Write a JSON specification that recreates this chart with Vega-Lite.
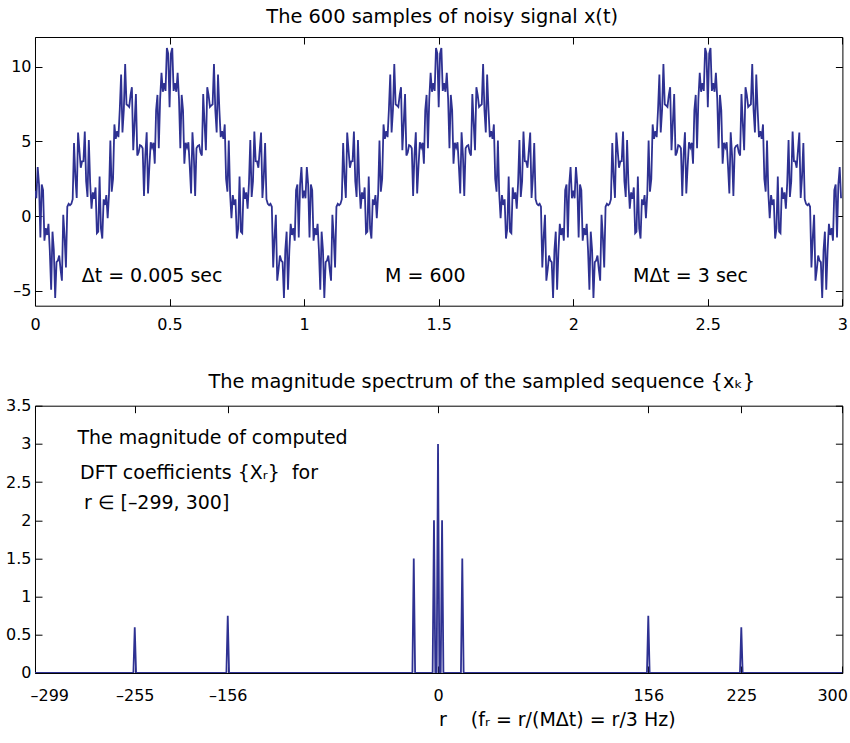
{
"$schema": "https://vega.github.io/schema/vega-lite/v6.json",
"autosize": {"type": "pad"},
"padding": {"left": 5, "top": 6, "right": 0, "bottom": 0},
"background": "white",
"spacing": 99.7,
"bounds": "flush",
"config": {
  "font": "DejaVu Sans",
  "view": {"stroke": "black", "strokeWidth": 1},
  "axis": {"grid": false, "domain": false, "tickSize": -7, "tickColor": "black", "tickWidth": 1, "labelFont": "DejaVu Sans", "labelFontSize": 16, "labelColor": "black", "titleFont": "DejaVu Sans", "titleFontWeight": "normal", "titleColor": "black", "labelFlush": false},
  "title": {"font": "DejaVu Sans", "fontSize": 19.4, "fontWeight": "normal", "color": "black", "baseline": "alphabetic"}
},
"datasets": {
"sig": [
{"t":0,"x":1.7},{"t":0.005,"x":1.194},{"t":0.01,"x":3.285},{"t":0.015,"x":2.119},{"t":0.02,"x":-1.434},{"t":0.025,"x":2.125},{"t":0.03,"x":1.743},{"t":0.035,"x":-1.646},{"t":0.04,"x":-0.801},{"t":0.045,"x":-1.262},
{"t":0.05,"x":-0.517},{"t":0.055,"x":-2.316},{"t":0.06,"x":-4.925},{"t":0.065,"x":-1.04},{"t":0.07,"x":-2.292},{"t":0.075,"x":-5.48},{"t":0.08,"x":-3.085},{"t":0.085,"x":-2.971},{"t":0.09,"x":-2.644},{"t":0.095,"x":-3.568},
{"t":0.1,"x":-4.327},{"t":0.105,"x":0.087},{"t":0.11,"x":-1.408},{"t":0.115,"x":-3.441},{"t":0.12,"x":0.628},{"t":0.125,"x":0.823},{"t":0.13,"x":0.73},{"t":0.135,"x":0.82},{"t":0.14,"x":1.138},{"t":0.145,"x":4.904},
{"t":0.15,"x":2.612},{"t":0.155,"x":1.222},{"t":0.16,"x":5.602},{"t":0.165,"x":4.424},{"t":0.17,"x":3.245},{"t":0.175,"x":3.672},{"t":0.18,"x":3.682},{"t":0.185,"x":5.666},{"t":0.19,"x":2.346},{"t":0.195,"x":1.285},
{"t":0.2,"x":5.105},{"t":0.205,"x":2.215},{"t":0.21,"x":0.502},{"t":0.215,"x":1.591},{"t":0.22,"x":1.168},{"t":0.225,"x":1.924},{"t":0.23,"x":-1.141},{"t":0.235,"x":-1.039},{"t":0.24,"x":2.648},{"t":0.245,"x":-0.828},
{"t":0.25,"x":-1.5},{"t":0.255,"x":1.122},{"t":0.26,"x":0.75},{"t":0.265,"x":1.411},{"t":0.27,"x":-0.139},{"t":0.275,"x":1.478},{"t":0.28,"x":5.068},{"t":0.285,"x":1.639},{"t":0.29,"x":2.492},{"t":0.295,"x":6.145},
{"t":0.3,"x":5.177},{"t":0.305,"x":5.693},{"t":0.31,"x":5.29},{"t":0.315,"x":7.146},{"t":0.32,"x":9.488},{"t":0.325,"x":5.606},{"t":0.33,"x":7.099},{"t":0.335,"x":10.194},{"t":0.34,"x":7.488},{"t":0.345,"x":7.416},
{"t":0.35,"x":7.314},{"t":0.355,"x":8.11},{"t":0.36,"x":8.638},{"t":0.365,"x":4.412},{"t":0.37,"x":6.206},{"t":0.375,"x":8.177},{"t":0.38,"x":4.06},{"t":0.385,"x":4.257},{"t":0.39,"x":4.756},{"t":0.395,"x":4.711},
{"t":0.4,"x":4.545},{"t":0.405,"x":1.35},{"t":0.41,"x":4.11},{"t":0.415,"x":5.613},{"t":0.42,"x":1.525},{"t":0.425,"x":3.346},{"t":0.43,"x":4.946},{"t":0.435,"x":4.604},{"t":0.44,"x":4.913},{"t":0.445,"x":3.514},
{"t":0.45,"x":7.091},{"t":0.455,"x":8.118},{"t":0.46,"x":4.547},{"t":0.465,"x":7.86},{"t":0.47,"x":9.601},{"t":0.475,"x":8.329},{"t":0.48,"x":8.902},{"t":0.485,"x":8.385},{"t":0.49,"x":11.269},{"t":0.495,"x":10.888},
{"t":0.5,"x":7.3},{"t":0.505,"x":10.888},{"t":0.51,"x":11.269},{"t":0.515,"x":8.385},{"t":0.52,"x":8.902},{"t":0.525,"x":8.329},{"t":0.53,"x":9.601},{"t":0.535,"x":7.86},{"t":0.54,"x":4.547},{"t":0.545,"x":8.118},
{"t":0.55,"x":7.091},{"t":0.555,"x":3.514},{"t":0.56,"x":4.913},{"t":0.565,"x":4.604},{"t":0.57,"x":4.946},{"t":0.575,"x":3.346},{"t":0.58,"x":1.525},{"t":0.585,"x":5.613},{"t":0.59,"x":4.11},{"t":0.595,"x":1.35},
{"t":0.6,"x":4.545},{"t":0.605,"x":4.711},{"t":0.61,"x":4.756},{"t":0.615,"x":4.257},{"t":0.62,"x":4.06},{"t":0.625,"x":8.177},{"t":0.63,"x":6.206},{"t":0.635,"x":4.412},{"t":0.64,"x":8.638},{"t":0.645,"x":8.11},
{"t":0.65,"x":7.314},{"t":0.655,"x":7.416},{"t":0.66,"x":7.488},{"t":0.665,"x":10.194},{"t":0.67,"x":7.099},{"t":0.675,"x":5.606},{"t":0.68,"x":9.488},{"t":0.685,"x":7.146},{"t":0.69,"x":5.29},{"t":0.695,"x":5.693},
{"t":0.7,"x":5.177},{"t":0.705,"x":6.145},{"t":0.71,"x":2.492},{"t":0.715,"x":1.639},{"t":0.72,"x":5.068},{"t":0.725,"x":1.478},{"t":0.73,"x":-0.139},{"t":0.735,"x":1.411},{"t":0.74,"x":0.75},{"t":0.745,"x":1.122},
{"t":0.75,"x":-1.5},{"t":0.755,"x":-0.828},{"t":0.76,"x":2.648},{"t":0.765,"x":-1.039},{"t":0.77,"x":-1.141},{"t":0.775,"x":1.924},{"t":0.78,"x":1.168},{"t":0.785,"x":1.591},{"t":0.79,"x":0.502},{"t":0.795,"x":2.215},
{"t":0.8,"x":5.105},{"t":0.805,"x":1.285},{"t":0.81,"x":2.346},{"t":0.815,"x":5.666},{"t":0.82,"x":3.682},{"t":0.825,"x":3.672},{"t":0.83,"x":3.245},{"t":0.835,"x":4.424},{"t":0.84,"x":5.602},{"t":0.845,"x":1.222},
{"t":0.85,"x":2.612},{"t":0.855,"x":4.904},{"t":0.86,"x":1.138},{"t":0.865,"x":0.82},{"t":0.87,"x":0.73},{"t":0.875,"x":0.823},{"t":0.88,"x":0.628},{"t":0.885,"x":-3.441},{"t":0.89,"x":-1.408},{"t":0.895,"x":0.087},
{"t":0.9,"x":-4.327},{"t":0.905,"x":-3.568},{"t":0.91,"x":-2.644},{"t":0.915,"x":-2.971},{"t":0.92,"x":-3.085},{"t":0.925,"x":-5.48},{"t":0.93,"x":-2.292},{"t":0.935,"x":-1.04},{"t":0.94,"x":-4.925},{"t":0.945,"x":-2.316},
{"t":0.95,"x":-0.517},{"t":0.955,"x":-1.262},{"t":0.96,"x":-0.801},{"t":0.965,"x":-1.646},{"t":0.97,"x":1.743},{"t":0.975,"x":2.125},{"t":0.98,"x":-1.434},{"t":0.985,"x":2.119},{"t":0.99,"x":3.285},{"t":0.995,"x":1.194},
{"t":1,"x":1.7},{"t":1.005,"x":1.194},{"t":1.01,"x":3.285},{"t":1.015,"x":2.119},{"t":1.02,"x":-1.434},{"t":1.025,"x":2.125},{"t":1.03,"x":1.743},{"t":1.035,"x":-1.646},{"t":1.04,"x":-0.801},{"t":1.045,"x":-1.262},
{"t":1.05,"x":-0.517},{"t":1.055,"x":-2.316},{"t":1.06,"x":-4.925},{"t":1.065,"x":-1.04},{"t":1.07,"x":-2.292},{"t":1.075,"x":-5.48},{"t":1.08,"x":-3.085},{"t":1.085,"x":-2.971},{"t":1.09,"x":-2.644},{"t":1.095,"x":-3.568},
{"t":1.1,"x":-4.327},{"t":1.105,"x":0.087},{"t":1.11,"x":-1.408},{"t":1.115,"x":-3.441},{"t":1.12,"x":0.628},{"t":1.125,"x":0.823},{"t":1.13,"x":0.73},{"t":1.135,"x":0.82},{"t":1.14,"x":1.138},{"t":1.145,"x":4.904},
{"t":1.15,"x":2.612},{"t":1.155,"x":1.222},{"t":1.16,"x":5.602},{"t":1.165,"x":4.424},{"t":1.17,"x":3.245},{"t":1.175,"x":3.672},{"t":1.18,"x":3.682},{"t":1.185,"x":5.666},{"t":1.19,"x":2.346},{"t":1.195,"x":1.285},
{"t":1.2,"x":5.105},{"t":1.205,"x":2.215},{"t":1.21,"x":0.502},{"t":1.215,"x":1.591},{"t":1.22,"x":1.168},{"t":1.225,"x":1.924},{"t":1.23,"x":-1.141},{"t":1.235,"x":-1.039},{"t":1.24,"x":2.648},{"t":1.245,"x":-0.828},
{"t":1.25,"x":-1.5},{"t":1.255,"x":1.122},{"t":1.26,"x":0.75},{"t":1.265,"x":1.411},{"t":1.27,"x":-0.139},{"t":1.275,"x":1.478},{"t":1.28,"x":5.068},{"t":1.285,"x":1.639},{"t":1.29,"x":2.492},{"t":1.295,"x":6.145},
{"t":1.3,"x":5.177},{"t":1.305,"x":5.693},{"t":1.31,"x":5.29},{"t":1.315,"x":7.146},{"t":1.32,"x":9.488},{"t":1.325,"x":5.606},{"t":1.33,"x":7.099},{"t":1.335,"x":10.194},{"t":1.34,"x":7.488},{"t":1.345,"x":7.416},
{"t":1.35,"x":7.314},{"t":1.355,"x":8.11},{"t":1.36,"x":8.638},{"t":1.365,"x":4.412},{"t":1.37,"x":6.206},{"t":1.375,"x":8.177},{"t":1.38,"x":4.06},{"t":1.385,"x":4.257},{"t":1.39,"x":4.756},{"t":1.395,"x":4.711},
{"t":1.4,"x":4.545},{"t":1.405,"x":1.35},{"t":1.41,"x":4.11},{"t":1.415,"x":5.613},{"t":1.42,"x":1.525},{"t":1.425,"x":3.346},{"t":1.43,"x":4.946},{"t":1.435,"x":4.604},{"t":1.44,"x":4.913},{"t":1.445,"x":3.514},
{"t":1.45,"x":7.091},{"t":1.455,"x":8.118},{"t":1.46,"x":4.547},{"t":1.465,"x":7.86},{"t":1.47,"x":9.601},{"t":1.475,"x":8.329},{"t":1.48,"x":8.902},{"t":1.485,"x":8.385},{"t":1.49,"x":11.269},{"t":1.495,"x":10.888},
{"t":1.5,"x":7.3},{"t":1.505,"x":10.888},{"t":1.51,"x":11.269},{"t":1.515,"x":8.385},{"t":1.52,"x":8.902},{"t":1.525,"x":8.329},{"t":1.53,"x":9.601},{"t":1.535,"x":7.86},{"t":1.54,"x":4.547},{"t":1.545,"x":8.118},
{"t":1.55,"x":7.091},{"t":1.555,"x":3.514},{"t":1.56,"x":4.913},{"t":1.565,"x":4.604},{"t":1.57,"x":4.946},{"t":1.575,"x":3.346},{"t":1.58,"x":1.525},{"t":1.585,"x":5.613},{"t":1.59,"x":4.11},{"t":1.595,"x":1.35},
{"t":1.6,"x":4.545},{"t":1.605,"x":4.711},{"t":1.61,"x":4.756},{"t":1.615,"x":4.257},{"t":1.62,"x":4.06},{"t":1.625,"x":8.177},{"t":1.63,"x":6.206},{"t":1.635,"x":4.412},{"t":1.64,"x":8.638},{"t":1.645,"x":8.11},
{"t":1.65,"x":7.314},{"t":1.655,"x":7.416},{"t":1.66,"x":7.488},{"t":1.665,"x":10.194},{"t":1.67,"x":7.099},{"t":1.675,"x":5.606},{"t":1.68,"x":9.488},{"t":1.685,"x":7.146},{"t":1.69,"x":5.29},{"t":1.695,"x":5.693},
{"t":1.7,"x":5.177},{"t":1.705,"x":6.145},{"t":1.71,"x":2.492},{"t":1.715,"x":1.639},{"t":1.72,"x":5.068},{"t":1.725,"x":1.478},{"t":1.73,"x":-0.139},{"t":1.735,"x":1.411},{"t":1.74,"x":0.75},{"t":1.745,"x":1.122},
{"t":1.75,"x":-1.5},{"t":1.755,"x":-0.828},{"t":1.76,"x":2.648},{"t":1.765,"x":-1.039},{"t":1.77,"x":-1.141},{"t":1.775,"x":1.924},{"t":1.78,"x":1.168},{"t":1.785,"x":1.591},{"t":1.79,"x":0.502},{"t":1.795,"x":2.215},
{"t":1.8,"x":5.105},{"t":1.805,"x":1.285},{"t":1.81,"x":2.346},{"t":1.815,"x":5.666},{"t":1.82,"x":3.682},{"t":1.825,"x":3.672},{"t":1.83,"x":3.245},{"t":1.835,"x":4.424},{"t":1.84,"x":5.602},{"t":1.845,"x":1.222},
{"t":1.85,"x":2.612},{"t":1.855,"x":4.904},{"t":1.86,"x":1.138},{"t":1.865,"x":0.82},{"t":1.87,"x":0.73},{"t":1.875,"x":0.823},{"t":1.88,"x":0.628},{"t":1.885,"x":-3.441},{"t":1.89,"x":-1.408},{"t":1.895,"x":0.087},
{"t":1.9,"x":-4.327},{"t":1.905,"x":-3.568},{"t":1.91,"x":-2.644},{"t":1.915,"x":-2.971},{"t":1.92,"x":-3.085},{"t":1.925,"x":-5.48},{"t":1.93,"x":-2.292},{"t":1.935,"x":-1.04},{"t":1.94,"x":-4.925},{"t":1.945,"x":-2.316},
{"t":1.95,"x":-0.517},{"t":1.955,"x":-1.262},{"t":1.96,"x":-0.801},{"t":1.965,"x":-1.646},{"t":1.97,"x":1.743},{"t":1.975,"x":2.125},{"t":1.98,"x":-1.434},{"t":1.985,"x":2.119},{"t":1.99,"x":3.285},{"t":1.995,"x":1.194},
{"t":2,"x":1.7},{"t":2.005,"x":1.194},{"t":2.01,"x":3.285},{"t":2.015,"x":2.119},{"t":2.02,"x":-1.434},{"t":2.025,"x":2.125},{"t":2.03,"x":1.743},{"t":2.035,"x":-1.646},{"t":2.04,"x":-0.801},{"t":2.045,"x":-1.262},
{"t":2.05,"x":-0.517},{"t":2.055,"x":-2.316},{"t":2.06,"x":-4.925},{"t":2.065,"x":-1.04},{"t":2.07,"x":-2.292},{"t":2.075,"x":-5.48},{"t":2.08,"x":-3.085},{"t":2.085,"x":-2.971},{"t":2.09,"x":-2.644},{"t":2.095,"x":-3.568},
{"t":2.1,"x":-4.327},{"t":2.105,"x":0.087},{"t":2.11,"x":-1.408},{"t":2.115,"x":-3.441},{"t":2.12,"x":0.628},{"t":2.125,"x":0.823},{"t":2.13,"x":0.73},{"t":2.135,"x":0.82},{"t":2.14,"x":1.138},{"t":2.145,"x":4.904},
{"t":2.15,"x":2.612},{"t":2.155,"x":1.222},{"t":2.16,"x":5.602},{"t":2.165,"x":4.424},{"t":2.17,"x":3.245},{"t":2.175,"x":3.672},{"t":2.18,"x":3.682},{"t":2.185,"x":5.666},{"t":2.19,"x":2.346},{"t":2.195,"x":1.285},
{"t":2.2,"x":5.105},{"t":2.205,"x":2.215},{"t":2.21,"x":0.502},{"t":2.215,"x":1.591},{"t":2.22,"x":1.168},{"t":2.225,"x":1.924},{"t":2.23,"x":-1.141},{"t":2.235,"x":-1.039},{"t":2.24,"x":2.648},{"t":2.245,"x":-0.828},
{"t":2.25,"x":-1.5},{"t":2.255,"x":1.122},{"t":2.26,"x":0.75},{"t":2.265,"x":1.411},{"t":2.27,"x":-0.139},{"t":2.275,"x":1.478},{"t":2.28,"x":5.068},{"t":2.285,"x":1.639},{"t":2.29,"x":2.492},{"t":2.295,"x":6.145},
{"t":2.3,"x":5.177},{"t":2.305,"x":5.693},{"t":2.31,"x":5.29},{"t":2.315,"x":7.146},{"t":2.32,"x":9.488},{"t":2.325,"x":5.606},{"t":2.33,"x":7.099},{"t":2.335,"x":10.194},{"t":2.34,"x":7.488},{"t":2.345,"x":7.416},
{"t":2.35,"x":7.314},{"t":2.355,"x":8.11},{"t":2.36,"x":8.638},{"t":2.365,"x":4.412},{"t":2.37,"x":6.206},{"t":2.375,"x":8.177},{"t":2.38,"x":4.06},{"t":2.385,"x":4.257},{"t":2.39,"x":4.756},{"t":2.395,"x":4.711},
{"t":2.4,"x":4.545},{"t":2.405,"x":1.35},{"t":2.41,"x":4.11},{"t":2.415,"x":5.613},{"t":2.42,"x":1.525},{"t":2.425,"x":3.346},{"t":2.43,"x":4.946},{"t":2.435,"x":4.604},{"t":2.44,"x":4.913},{"t":2.445,"x":3.514},
{"t":2.45,"x":7.091},{"t":2.455,"x":8.118},{"t":2.46,"x":4.547},{"t":2.465,"x":7.86},{"t":2.47,"x":9.601},{"t":2.475,"x":8.329},{"t":2.48,"x":8.902},{"t":2.485,"x":8.385},{"t":2.49,"x":11.269},{"t":2.495,"x":10.888},
{"t":2.5,"x":7.3},{"t":2.505,"x":10.888},{"t":2.51,"x":11.269},{"t":2.515,"x":8.385},{"t":2.52,"x":8.902},{"t":2.525,"x":8.329},{"t":2.53,"x":9.601},{"t":2.535,"x":7.86},{"t":2.54,"x":4.547},{"t":2.545,"x":8.118},
{"t":2.55,"x":7.091},{"t":2.555,"x":3.514},{"t":2.56,"x":4.913},{"t":2.565,"x":4.604},{"t":2.57,"x":4.946},{"t":2.575,"x":3.346},{"t":2.58,"x":1.525},{"t":2.585,"x":5.613},{"t":2.59,"x":4.11},{"t":2.595,"x":1.35},
{"t":2.6,"x":4.545},{"t":2.605,"x":4.711},{"t":2.61,"x":4.756},{"t":2.615,"x":4.257},{"t":2.62,"x":4.06},{"t":2.625,"x":8.177},{"t":2.63,"x":6.206},{"t":2.635,"x":4.412},{"t":2.64,"x":8.638},{"t":2.645,"x":8.11},
{"t":2.65,"x":7.314},{"t":2.655,"x":7.416},{"t":2.66,"x":7.488},{"t":2.665,"x":10.194},{"t":2.67,"x":7.099},{"t":2.675,"x":5.606},{"t":2.68,"x":9.488},{"t":2.685,"x":7.146},{"t":2.69,"x":5.29},{"t":2.695,"x":5.693},
{"t":2.7,"x":5.177},{"t":2.705,"x":6.145},{"t":2.71,"x":2.492},{"t":2.715,"x":1.639},{"t":2.72,"x":5.068},{"t":2.725,"x":1.478},{"t":2.73,"x":-0.139},{"t":2.735,"x":1.411},{"t":2.74,"x":0.75},{"t":2.745,"x":1.122},
{"t":2.75,"x":-1.5},{"t":2.755,"x":-0.828},{"t":2.76,"x":2.648},{"t":2.765,"x":-1.039},{"t":2.77,"x":-1.141},{"t":2.775,"x":1.924},{"t":2.78,"x":1.168},{"t":2.785,"x":1.591},{"t":2.79,"x":0.502},{"t":2.795,"x":2.215},
{"t":2.8,"x":5.105},{"t":2.805,"x":1.285},{"t":2.81,"x":2.346},{"t":2.815,"x":5.666},{"t":2.82,"x":3.682},{"t":2.825,"x":3.672},{"t":2.83,"x":3.245},{"t":2.835,"x":4.424},{"t":2.84,"x":5.602},{"t":2.845,"x":1.222},
{"t":2.85,"x":2.612},{"t":2.855,"x":4.904},{"t":2.86,"x":1.138},{"t":2.865,"x":0.82},{"t":2.87,"x":0.73},{"t":2.875,"x":0.823},{"t":2.88,"x":0.628},{"t":2.885,"x":-3.441},{"t":2.89,"x":-1.408},{"t":2.895,"x":0.087},
{"t":2.9,"x":-4.327},{"t":2.905,"x":-3.568},{"t":2.91,"x":-2.644},{"t":2.915,"x":-2.971},{"t":2.92,"x":-3.085},{"t":2.925,"x":-5.48},{"t":2.93,"x":-2.292},{"t":2.935,"x":-1.04},{"t":2.94,"x":-4.925},{"t":2.945,"x":-2.316},
{"t":2.95,"x":-0.517},{"t":2.955,"x":-1.262},{"t":2.96,"x":-0.801},{"t":2.965,"x":-1.646},{"t":2.97,"x":1.743},{"t":2.975,"x":2.125},{"t":2.98,"x":-1.434},{"t":2.985,"x":2.119},{"t":2.99,"x":3.285},{"t":2.995,"x":1.194}
],
"spec": [
{"r":-299,"m":0},{"r":-226,"m":0},{"r":-225,"m":0.6},{"r":-224,"m":0},{"r":-157,"m":0},{"r":-156,"m":0.75},{"r":-155,"m":0},
{"r":-19,"m":0},{"r":-18,"m":1.5},{"r":-17,"m":0},{"r":-4,"m":0},{"r":-3,"m":2},{"r":-2,"m":0},{"r":-1,"m":0},{"r":0,"m":3},{"r":1,"m":0},{"r":2,"m":0},{"r":3,"m":2},{"r":4,"m":0},
{"r":17,"m":0},{"r":18,"m":1.5},{"r":19,"m":0},{"r":155,"m":0},{"r":156,"m":0.75},{"r":157,"m":0},{"r":224,"m":0},{"r":225,"m":0.6},{"r":226,"m":0},{"r":300,"m":0}
],
"notes1": [
{"t":0.1735,"x":-4.42,"label":"Δt = 0.005 sec"},
{"t":1.3006,"x":-4.42,"label":"M = 600"},
{"t":2.222,"x":-4.42,"label":"MΔt = 3 sec"}
],
"notes2": [
{"r":-267.5,"m":2.993,"label":"The magnitude of computed"},
{"r":-265.6,"m":2.545,"label":"DFT coefficients {Xᵣ}\u00a0\u00a0for"},
{"r":-262.6,"m":2.144,"label":"r ∈ [–299, 300]"}
]
},
"vconcat": [
{
  "width": 807.4, "height": 268.7,
  "title": {"text": "The 600 samples of noisy signal x(t)", "offset": 9.3, "dx": 3.5},
  "layer": [
    {"data": {"name": "sig"}, "mark": {"type": "line", "color": "#2e3192", "strokeWidth": 1.8, "clip": true},
     "encoding": {
       "x": {"field": "t", "type": "quantitative", "scale": {"domain": [0, 3], "nice": false, "zero": false},
             "axis": {"orient": "bottom", "values": [0, 0.5, 1, 1.5, 2, 2.5, 3], "labelExpr": "'' + datum.value", "title": null, "labelPadding": 18}},
       "y": {"field": "x", "type": "quantitative", "scale": {"domain": [-6, 12], "nice": false, "zero": false},
             "axis": {"orient": "left", "values": [-5, 0, 5, 10], "title": null, "labelPadding": 11, "labelExpr": "replace('' + datum.value, '-', '–')"}}
     }},
    {"data": {"name": "notes1"}, "mark": {"type": "text", "align": "left", "baseline": "alphabetic", "fontSize": 19, "font": "DejaVu Sans", "color": "black"},
     "encoding": {
       "x": {"field": "t", "type": "quantitative", "axis": {"orient": "top", "labels": false, "values": [0, 0.5, 1, 1.5, 2, 2.5, 3], "title": null}},
       "y": {"field": "x", "type": "quantitative", "axis": {"orient": "right", "labels": false, "values": [-5, 0, 5, 10], "title": null}},
       "text": {"field": "label"}
     }}
  ]
},
{
  "width": 807.4, "height": 267.3,
  "title": {"text": "The magnitude spectrum of the sampled sequence {xₖ}", "offset": 5.5, "dx": 43},
  "layer": [
    {"data": {"name": "spec"}, "mark": {"type": "line", "color": "#2e3192", "strokeWidth": 1.8, "clip": true},
     "encoding": {
       "x": {"field": "r", "type": "quantitative", "scale": {"domain": [-299, 300], "nice": false, "zero": false},
             "axis": {"orient": "bottom", "values": [-299, -225, -156, 0, 156, 225, 300], "labelPadding": 22, "labelFlush": true, "labelFlushOffset": 5,
                      "labelExpr": "datum.value == -225 ? '–255' : replace('' + datum.value, '-', '–')",
                      "title": "r\u00a0\u00a0\u00a0\u00a0(fᵣ = r/(MΔt) = r/3 Hz)", "titleFontSize": 19, "titleAlign": "left", "titleBaseline": "alphabetic", "titleX": 403.4, "titleY": 52.7, "titleAngle": 0}},
       "y": {"field": "m", "type": "quantitative", "scale": {"domain": [0, 3.5], "nice": false, "zero": false},
             "axis": {"orient": "left", "values": [0, 0.5, 1, 1.5, 2, 2.5, 3, 3.5], "labelExpr": "'' + datum.value", "title": null, "labelPadding": 11}}
     }},
    {"data": {"name": "notes2"}, "mark": {"type": "text", "align": "left", "baseline": "alphabetic", "fontSize": 19, "font": "DejaVu Sans", "color": "black"},
     "encoding": {
       "x": {"field": "r", "type": "quantitative", "axis": {"orient": "top", "labels": false, "values": [-299, -225, -156, 0, 156, 225, 300], "title": null}},
       "y": {"field": "m", "type": "quantitative", "axis": {"orient": "right", "labels": false, "values": [0, 0.5, 1, 1.5, 2, 2.5, 3, 3.5], "title": null}},
       "text": {"field": "label"}
     }}
  ]
}
]
}
